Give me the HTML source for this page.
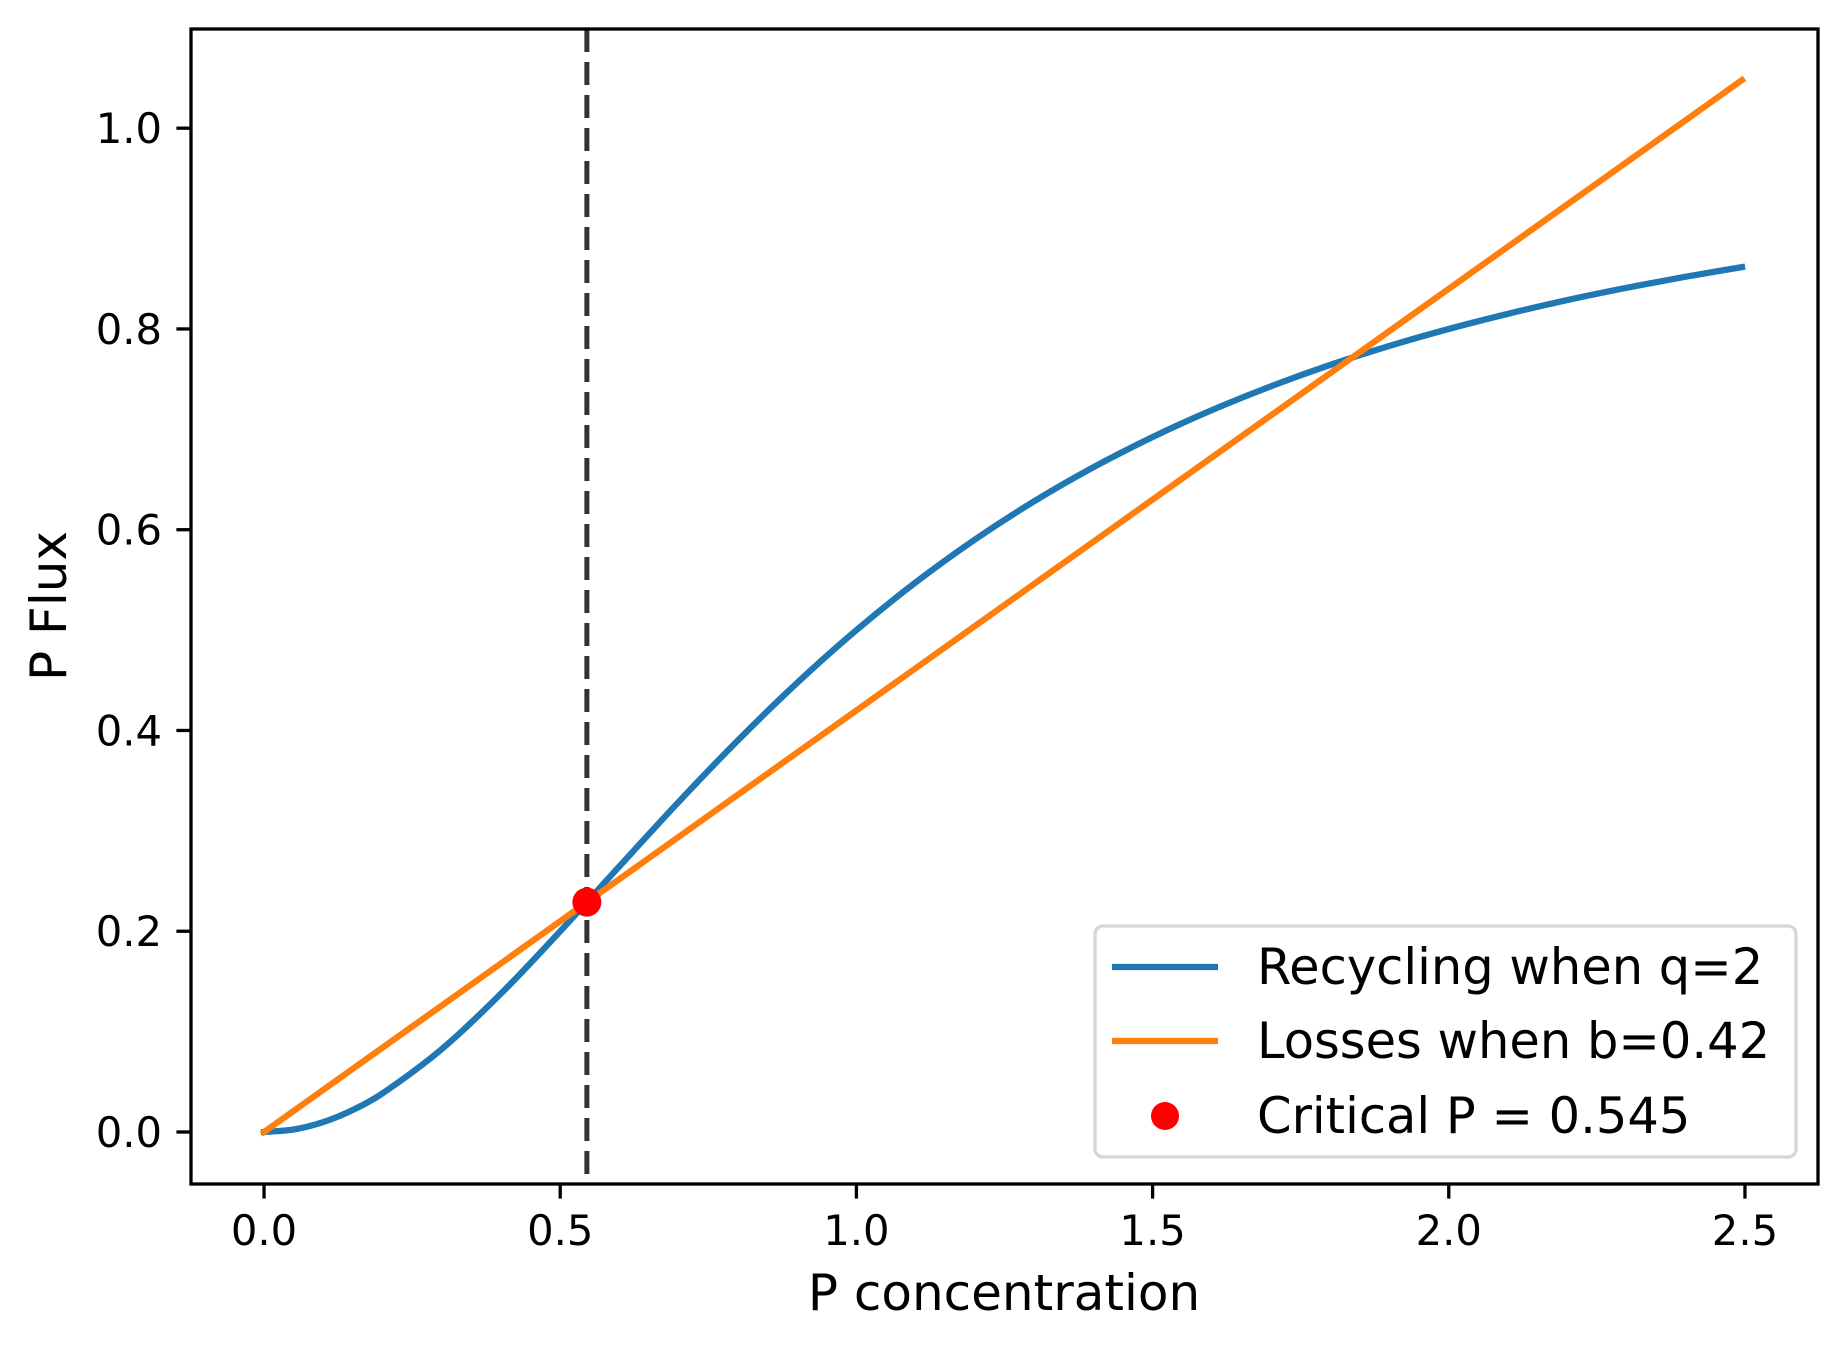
<!DOCTYPE html>
<html><head><meta charset="utf-8"><style>
html,body{margin:0;padding:0;background:#fff;}
svg{display:block;font-family:"DejaVu Sans","Liberation Sans",sans-serif;}
</style></head><body>
<svg id="chart" width="1847" height="1348" viewBox="0 0 1847 1348" xmlns="http://www.w3.org/2000/svg">
<rect width="1847" height="1348" fill="#fff"/>
<g id="plot"></g>
<text x="1004" y="1310" font-size="50" text-anchor="middle">P concentration</text>
<text transform="translate(66,606) rotate(-90)" font-size="50" text-anchor="middle">P Flux</text>
<g>
<rect x="1095" y="926" width="701" height="231" rx="8" fill="#fff" fill-opacity="0.8" stroke="#d6d6d6" stroke-width="3.3"/>
<line x1="1112" x2="1218" y1="967" y2="967" stroke="#1f77b4" stroke-width="6.25"/>
<text x="1257" y="984" font-size="49.5">Recycling when q=2</text>
<line x1="1112" x2="1218" y1="1041" y2="1041" stroke="#ff7f0e" stroke-width="6.25"/>
<text x="1257" y="1058" font-size="49.5">Losses when b=0.42</text>
<circle cx="1165" cy="1116" r="14" fill="#ff0000"/>
<text x="1257" y="1133" font-size="49.5">Critical P = 0.545</text>
</g>
</svg>
<script>
var xValues=[0,0.05,0.1,0.15,0.2,0.3,0.4,0.5,0.6,0.7,0.8,0.9,1.0,1.1,1.2,1.3,1.4,1.5,1.6,1.7,1.8,1.9,2.0,2.1,2.2,2.3,2.4,2.495];
var recycling=[0,0.0025,0.0099,0.0220,0.0385,0.0826,0.1379,0.2,0.2647,0.3289,0.3902,0.4475,0.5,0.5475,0.5902,0.6283,0.6622,0.6923,0.7191,0.7429,0.7642,0.7831,0.8,0.8151,0.8288,0.8410,0.8521,0.8616];
var losses=[0,0.021,0.042,0.063,0.084,0.126,0.168,0.21,0.252,0.294,0.336,0.378,0.42,0.462,0.504,0.546,0.588,0.63,0.672,0.714,0.756,0.798,0.84,0.882,0.924,0.966,1.008,1.0479];
var criticalP=[0.545];
var criticalFlux=[0.229];
var xTicks=[0,0.5,1.0,1.5,2.0,2.5];
var xTickLabels=["0.0","0.5","1.0","1.5","2.0","2.5"];
var yTicks=[0,0.2,0.4,0.6,0.8,1.0];
var yTickLabels=["0.0","0.2","0.4","0.6","0.8","1.0"];

var AL=191,AR=1818,AT=29,AB=1184;
var xMin=-0.1233,xMax=2.6233,yMin=-0.0518,yMax=1.0988;
function sx(v){return AL+(v-xMin)/(xMax-xMin)*(AR-AL);}
function sy(v){return AB-(v-yMin)/(yMax-yMin)*(AB-AT);}
var NS="http://www.w3.org/2000/svg";
var plotG=document.getElementById('plot');
function mk(tag,attrs){var e=document.createElementNS(NS,tag);for(var k in attrs)e.setAttribute(k,attrs[k]);plotG.appendChild(e);return e;}
function smoothPath(xs,ys){
  var p=xs.map(function(x,i){return [sx(x),sy(ys[i])];});
  var d="M"+p[0][0]+","+p[0][1];
  for(var i=0;i<p.length-1;i++){
    var p0=p[Math.max(i-1,0)],p1=p[i],p2=p[i+1],p3=p[Math.min(i+2,p.length-1)];
    var h1=(p2[0]-p1[0])/(p2[0]-p0[0]||1),h2=(p2[0]-p1[0])/(p3[0]-p1[0]||1);
    var c1=[p1[0]+(p2[0]-p0[0])*h1/3,p1[1]+(p2[1]-p0[1])*h1/3];
    var c2=[p2[0]-(p3[0]-p1[0])*h2/3,p2[1]-(p3[1]-p1[1])*h2/3];
    d+=" C"+c1[0]+","+c1[1]+" "+c2[0]+","+c2[1]+" "+p2[0]+","+p2[1];
  }
  return d;
}
var vl=mk('line',{x1:sx(criticalP[0]),x2:sx(criticalP[0]),y1:AT,y2:AB,stroke:'#333333','stroke-width':5,'stroke-dasharray':'23 10'});


var rc=mk('path',{d:smoothPath(xValues,recycling),fill:'none',stroke:'#1f77b4','stroke-width':6.25,'stroke-linecap':'square'});


var ls=mk('path',{d:smoothPath(xValues,losses),fill:'none',stroke:'#ff7f0e','stroke-width':6.25,'stroke-linecap':'square'});


var pt=mk('circle',{cx:sx(criticalP[0]),cy:sy(criticalFlux[0]),r:14.5,fill:'#ff0000'});


var fr=mk('rect',{x:AL,y:AT,width:AR-AL,height:AB-AT,fill:'none',stroke:'#000','stroke-width':3.3});


xTicks.forEach(function(v,i){
  var t=mk('line',{x1:sx(v),x2:sx(v),y1:AB,y2:AB+14.6,stroke:'#000','stroke-width':3.3});
  
  
  var tx=mk('text',{x:sx(v),y:1245,'font-size':41.7,'text-anchor':'middle',fill:'#000'});
  tx.textContent=xTickLabels[i];
  
  
});
yTicks.forEach(function(v,i){
  var t=mk('line',{x1:AL-14.6,x2:AL,y1:sy(v),y2:sy(v),stroke:'#000','stroke-width':3.3});
  
  
  var tx=mk('text',{x:162,y:sy(v)+15,'font-size':41.7,'text-anchor':'end',fill:'#000'});
  tx.textContent=yTickLabels[i];
  
  
});
</script>
</body></html>
